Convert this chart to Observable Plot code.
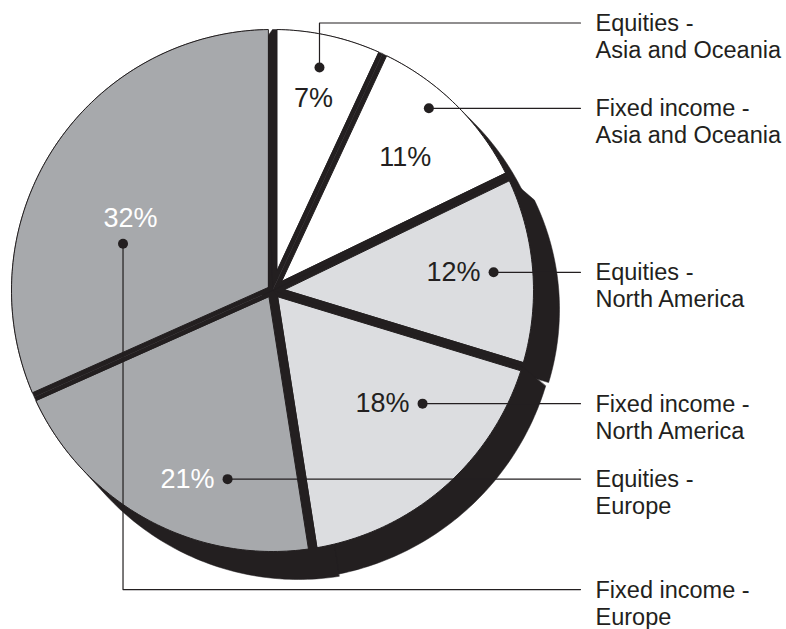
<!DOCTYPE html>
<html><head><meta charset="utf-8">
<script src="https://cdn.jsdelivr.net/npm/d3@7"></script>
<script src="https://cdn.jsdelivr.net/npm/@observablehq/plot@0.6"></script>
<style>html,body{margin:0;padding:0;background:#fff;} #chart{width:786px;height:629px;}</style>
</head><body><div id="chart"></div>
<script>
// ---- data ----
const categories = ["Equities - Asia and Oceania", "Fixed income - Asia and Oceania", "Equities - North America", "Fixed income - North America", "Equities - Europe", "Fixed income - Europe"];
const assetClasses = ["Equities", "Fixed income", "Equities", "Fixed income", "Equities", "Fixed income"];
const regions = ["Asia and Oceania", "Asia and Oceania", "North America", "North America", "Europe", "Europe"];
const shares = [7, 11, 12, 18, 21, 32];
const regionOrder = ["Asia and Oceania", "North America", "Europe"];

// ---- layout / style (not data) ----
const W = 786, H = 629, CX = 272, CY = 290, RPX = 261, K = 1 / RPX;
const ink = "#231f20";
const regionColors = ["#ffffff", "#dcdde0", "#a7a9ac"];
const lightText = new Set(["Europe"]);
const gapPx = 4.5;
// shadow extrusion per slice: [dx px, dy px (down), extra radius px]
const shadowExtrude = [[-10, 14, 0], [16, 16, 0], [36, 19, -10], [12, 16, 12], [26, 27, 1], null];
// marker placement: fraction through slice angle, radius fraction
const dotPlace = [[0.477, 0.873], [0.40, 0.92], [0.494, 0.85], [0.313, 0.72], [0.298, 0.743], [0.363, 0.60]];
// percent label placement: polar [t, r] or "left" of marker
const pctPlace = [[0.483, 0.752], [0.511, 0.72], "left", "left", "left", [0.447, 0.61]];
// leader elbow heights (units) for routed leaders, else horizontal
const elbowY = [1.025, null, null, null, null, -1.146];
const leaderEndX = (580 - CX) * K;
const labelX = (595 - CX) * K;

const total = d3.sum(shares);
let acc = 0;
const slices = shares.map((v, i) => {
  const a0 = acc / total * 2 * Math.PI; acc += v;
  const a1 = acc / total * 2 * Math.PI;
  return {i, name: categories[i], region: regions[i], asset: assetClasses[i], value: v, a0, a1};
});

const pol = (cx, cy, r, a) => [cx + r * Math.sin(a), cy + r * Math.cos(a)];
function sector(cx, cy, r, a0, a1) {
  const n = Math.max(8, Math.ceil((a1 - a0) / (2 * Math.PI) * 360));
  const pts = [[cx, cy]];
  for (let k = 0; k <= n; k++) pts.push(pol(cx, cy, r, a0 + (a1 - a0) * k / n));
  return pts;
}

// shadows
const shadowRows = [];
slices.forEach((s, i) => {
  const ex = shadowExtrude[i];
  let poly;
  if (!ex) {
    poly = sector(0, 0, 1, s.a0, s.a1 - 2 * Math.PI / 180);
  } else {
    const pts = sector(0, 0, 1, s.a0, s.a1).concat(sector(ex[0] * K, -ex[1] * K, 1 + ex[2] * K, s.a0, s.a1));
    poly = d3.polygonHull(pts);
  }
  poly.forEach(p => shadowRows.push({key: s.name, x: p[0], y: p[1]}));
});

// faces (padded with constant-width gaps)
const faceRows = [];
slices.forEach(s => {
  const p = gapPx * K, th = s.a1 - s.a0, d = Math.asin(p);
  const apex = pol(0, 0, p / Math.sin(th / 2), (s.a0 + s.a1) / 2);
  const pts = [apex];
  const n = Math.ceil(th / (2 * Math.PI) * 360);
  for (let k = 0; k <= n; k++) pts.push(pol(0, 0, 1, s.a0 + d + (th - 2 * d) * k / n));
  pts.forEach(q => faceRows.push({key: s.name, region: s.region, x: q[0], y: q[1]}));
});

// markers, leaders, labels
const dotRows = slices.map((s, i) => {
  const [t, r] = dotPlace[i];
  const [x, y] = pol(0, 0, r, s.a0 + t * (s.a1 - s.a0));
  return {name: s.name, x, y};
});
const pctRows = slices.map((s, i) => {
  const pl = pctPlace[i];
  let x, y;
  if (pl === "left") { x = dotRows[i].x - 40 * K; y = dotRows[i].y; }
  else { [x, y] = pol(0, 0, pl[1], s.a0 + pl[0] * (s.a1 - s.a0)); }
  return {region: s.region, text: s.value + "%", x, y};
});
const leaderRows = [];
const labelRows = [];
slices.forEach((s, i) => {
  const d = dotRows[i];
  let ly;
  if (elbowY[i] != null) {
    ly = elbowY[i];
    leaderRows.push({key: s.name, x: d.x, y: d.y}, {key: s.name, x: d.x, y: ly}, {key: s.name, x: leaderEndX, y: ly});
  } else {
    ly = d.y;
    leaderRows.push({key: s.name, x: d.x, y: ly}, {key: s.name, x: leaderEndX, y: ly});
  }
  labelRows.push({x: labelX, y: ly + 11 * K, text: s.asset + " -\n" + s.region});
});

const chart = Plot.plot({
  width: W, height: H,
  marginTop: 0, marginRight: 0, marginBottom: 0, marginLeft: 0,
  x: {domain: [-CX * K, (W - CX) * K], range: [0, W], axis: null},
  y: {domain: [-(H - CY) * K, CY * K], range: [H, 0], axis: null},
  color: {domain: regionOrder, range: regionColors},
  style: {fontFamily: "'Liberation Sans', Arial, Helvetica, sans-serif", background: "#fff", overflow: "visible"},
  marks: [
    Plot.line(shadowRows, {x: "x", y: "y", z: "key", fill: ink, stroke: ink, strokeWidth: 0.5, curve: "linear-closed"}),
    Plot.line(faceRows, {x: "x", y: "y", z: "key", fill: "region", stroke: ink, strokeWidth: 1, curve: "linear-closed"}),
    Plot.line(leaderRows, {x: "x", y: "y", z: "key", stroke: ink, strokeWidth: 1.2}),
    Plot.dot(dotRows, {x: "x", y: "y", r: 5, fill: ink, stroke: "none"}),
    Plot.text(pctRows.filter(d => !lightText.has(d.region)), {x: "x", y: "y", text: "text", fill: ink, fontSize: 27, textAnchor: "middle", lineAnchor: "middle"}),
    Plot.text(pctRows.filter(d => lightText.has(d.region)), {x: "x", y: "y", text: "text", fill: "#ffffff", fontSize: 27, textAnchor: "middle", lineAnchor: "middle"}),
    Plot.text(labelRows, {x: "x", y: "y", text: "text", fill: ink, fontSize: 23.5, textAnchor: "start", lineAnchor: "top", lineHeight: 1.15})
  ]
});
document.getElementById("chart").appendChild(chart);
</script>
</body></html>
